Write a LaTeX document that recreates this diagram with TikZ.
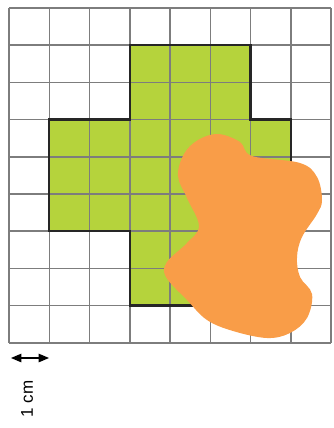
\documentclass[tikz,border=0pt]{standalone}
\usepackage{fontspec}
\setmainfont{Liberation Sans}
\usepackage{tikz}
\usetikzlibrary{arrows}
\definecolor{leaf}{RGB}{181,211,60}
\definecolor{peach}{RGB}{249,157,72}
\definecolor{gridgray}{RGB}{125,125,125}

\begin{document}
\begin{tikzpicture}[x=1pt,y=-1pt]
\useasboundingbox (0,0) rectangle (334,428);
\begin{scope}[shift={(9,8)},x=40.25pt,y=-37.2pt]
\fill[leaf] (3,1)--(6,1)--(6,3)--(7,3)--(7,6)--(5,6)--(5,8)--(3,8)--(3,6)--(1,6)--(1,3)--(3,3)--cycle;
\foreach \x in {0,...,8}{
\draw[gridgray,line width=1.5pt](\x,0)--(\x,9);
}
\foreach \y in {0,...,9}{
\draw[gridgray,line width=1.5pt](0,\y)--(8,\y);
}
\draw[black!85,line width=2.4pt,line join=miter]
(3,1)--(6,1)--(6,3)--(7,3)--(7,6)--(5,6)--(5,8)--(3,8)--(3,6)--(1,6)--(1,3)--(3,3)--cycle;
\end{scope}
% the blot
\fill[peach] plot[smooth cycle,tension=0.6] coordinates {
(218,134) (240,142) (252,156) (300,163) (317,177) (322,200) (317,214) (302,237)
(297,257) (300,277) (312,294) (307,318) (290,333) (267,338) (233,331)
(207,320) (187,300) (166,277) (167,262) (187,243) (199,226) (187,198)
(178,176) (184,154) (198,140)};
\coordinate (l) at (11,358);
\coordinate (r) at (49,358);
\draw[triangle 45-triangle 45,line width=1.4pt](l)--(r);
\node[rotate=90,font=\fontsize{17}{19}\selectfont,inner sep=0pt](unit) at (27,399){1 cm};
\end{tikzpicture}
\end{document}
